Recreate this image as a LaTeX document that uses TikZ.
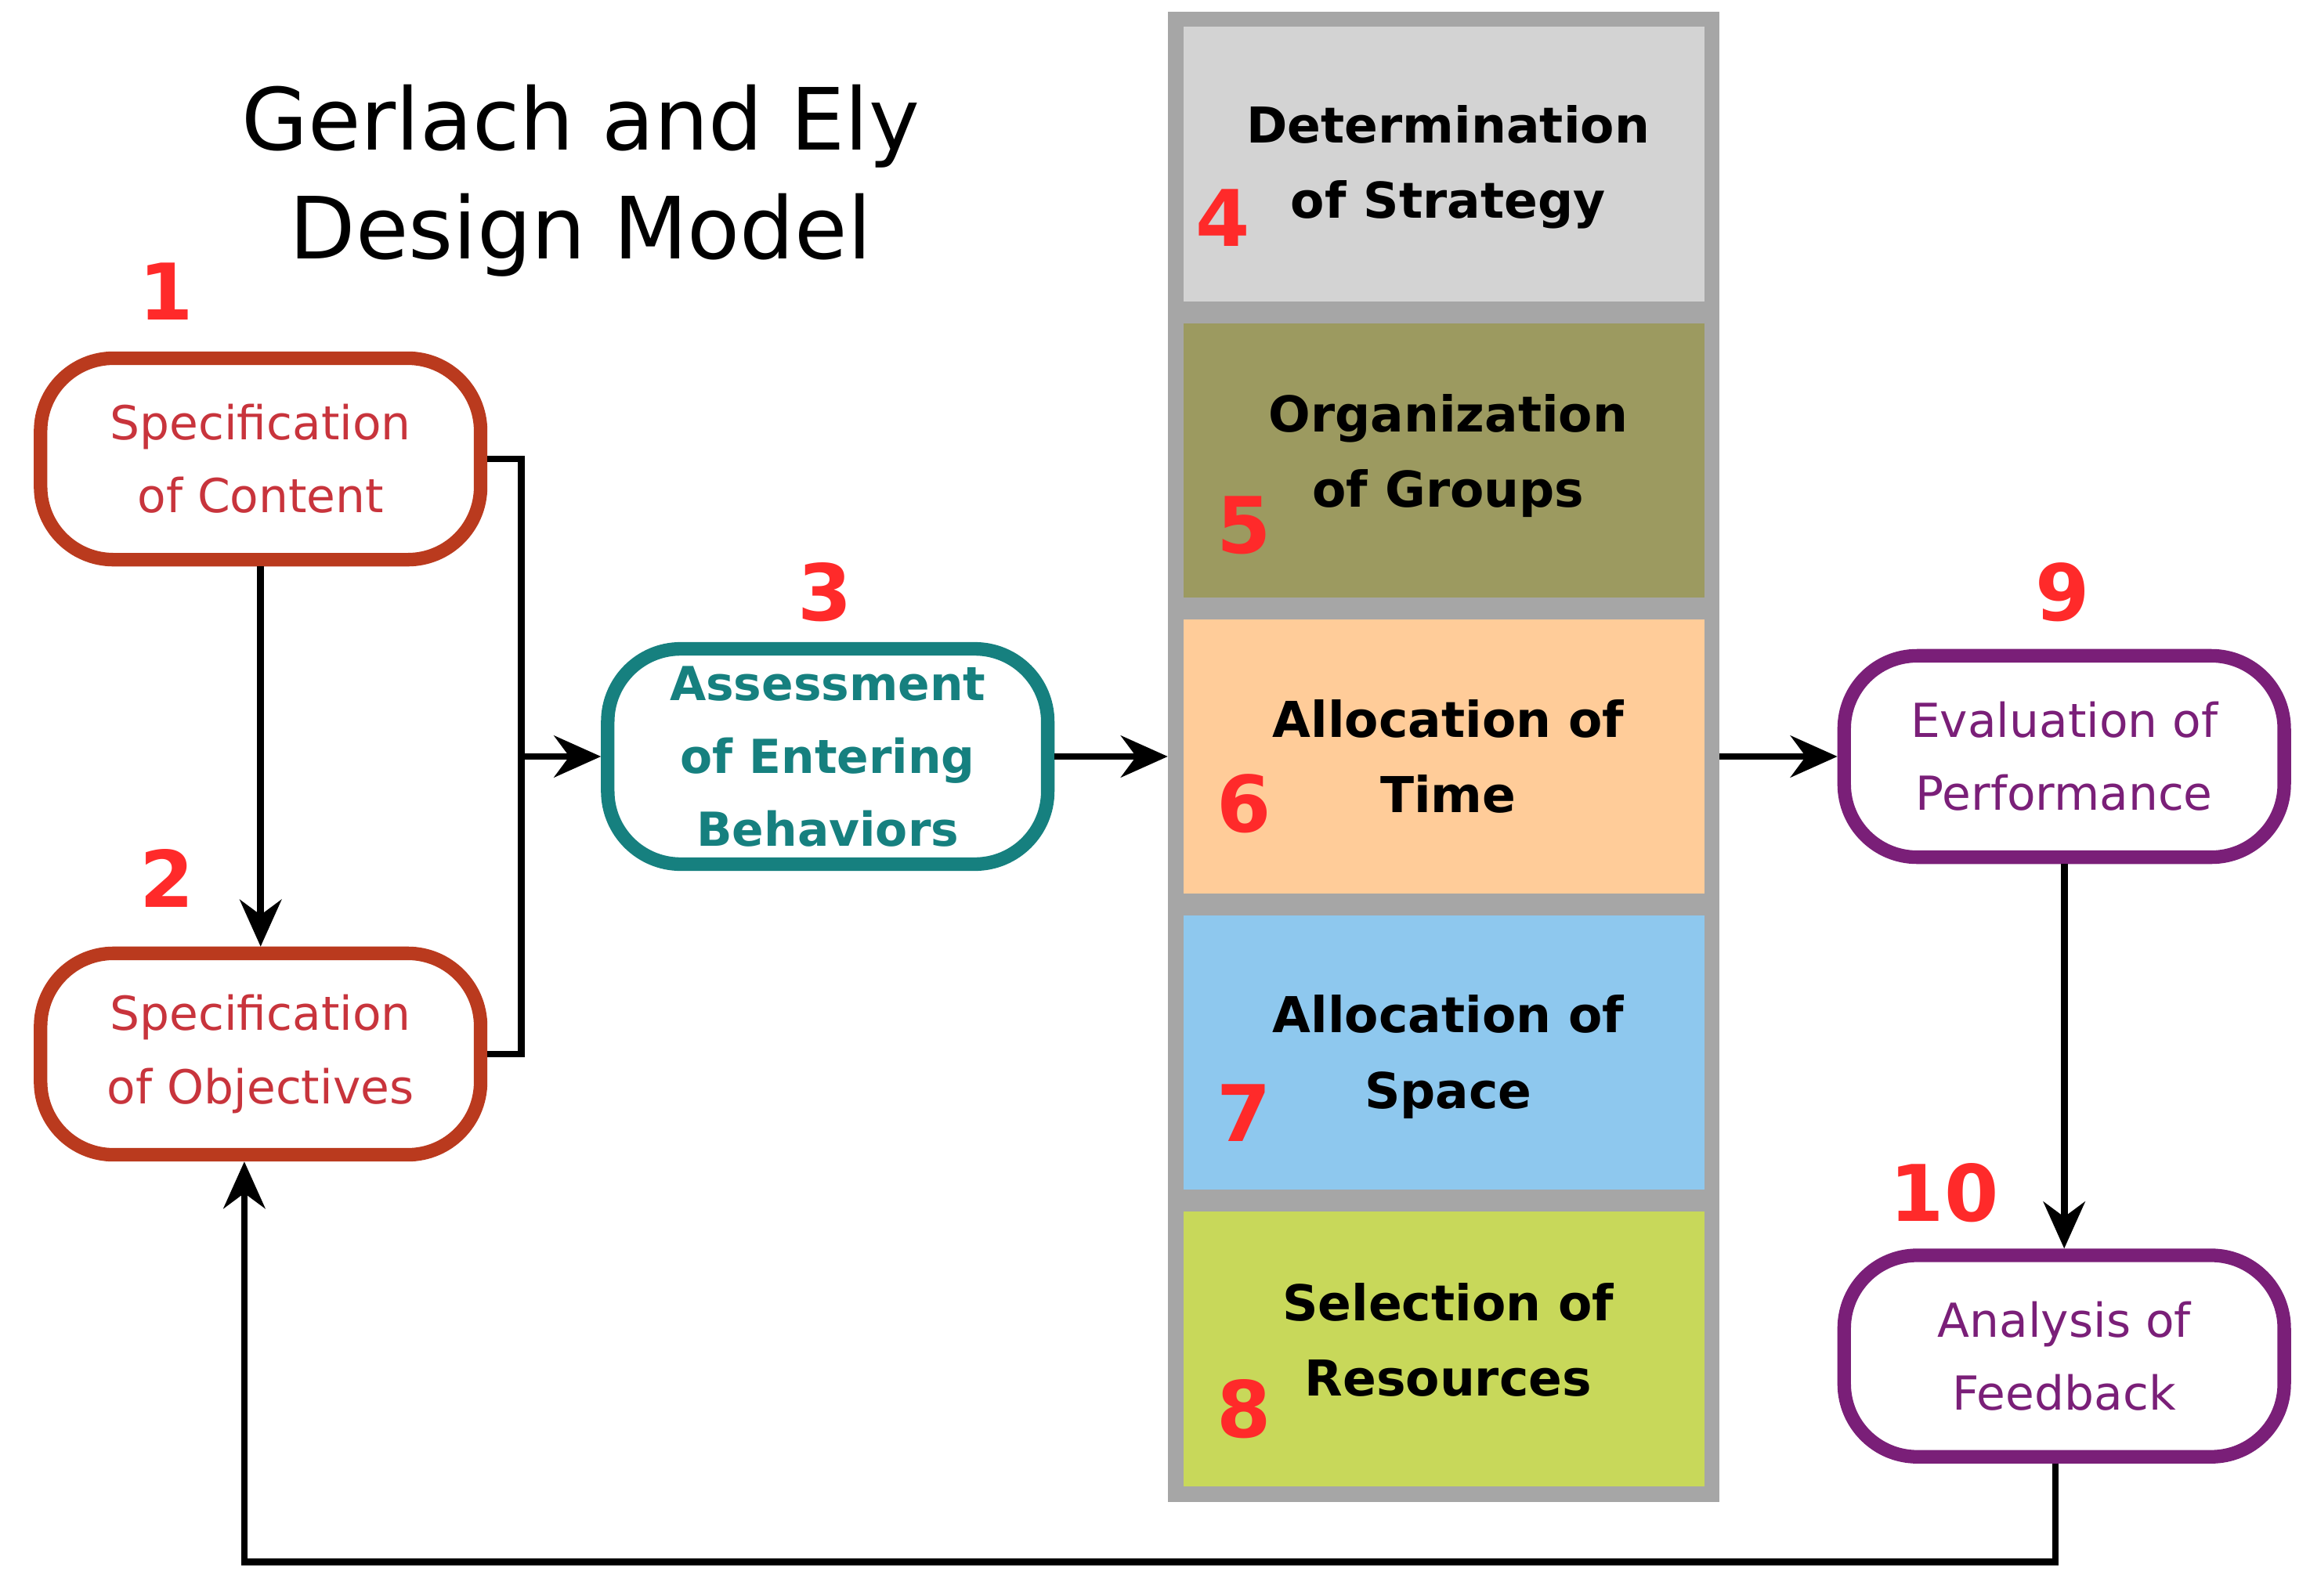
\documentclass[tikz,border=0pt]{standalone}
\usepackage{fontspec}
\setmainfont{DejaVu Sans}
\usetikzlibrary{arrows.meta}
\definecolor{cred}{HTML}{BA3A1E}
\definecolor{ctred}{HTML}{C8343C}
\definecolor{cteal}{HTML}{16807F}
\definecolor{cpur}{HTML}{7A1F78}
\definecolor{cnum}{HTML}{FF2A2A}
\definecolor{c4}{HTML}{D3D3D3}
\definecolor{c5}{HTML}{9C9A60}
\definecolor{c6}{HTML}{FFCC99}
\definecolor{c7}{HTML}{8EC8EE}
\definecolor{c8}{HTML}{C8D85A}
\begin{document}
\begin{tikzpicture}[x=0.01cm,y=-0.01cm,
 box/.style={draw=#1,line width=2.6pt,rounded corners=14pt,fill=white,minimum width=2.97cm,minimum height=1.36cm,align=center,font=\fontsize{9}{14}\selectfont},
 cell/.style={draw=gray!70,line width=3pt,fill=#1,minimum width=3.62cm,minimum height=1.96cm,inner sep=0pt},
 ctext/.style={font=\bfseries\fontsize{9.5}{14.5}\selectfont,align=center},
 num/.style={text=cnum,font=\bfseries\fontsize{15}{15}\selectfont},
 arr/.style={line width=1.3pt,-{Stealth[length=9pt,width=8pt]}},
 ln/.style={line width=1.3pt}]
\useasboundingbox (0,0) rectangle (1560,1078);
\node[align=center,font=\fontsize{16.5}{21}\selectfont] (title) at (392,122) {Gerlach and Ely\\Design Model};
\node[box=cred,text=ctred] (b1) at (176,310) {Specification\\of Content};
\node[box=cred,text=ctred] (b2) at (176,712) {Specification\\of Objectives};
\node[box=cteal,text=cteal] (b3) at (559,511) {\bfseries Assessment\\\bfseries of Entering\\\bfseries Behaviors};
\node[box=cpur,text=cpur] (b9) at (1394,511) {Evaluation of\\Performance};
\node[box=cpur,text=cpur] (b10) at (1394,916) {Analysis of\\Feedback};
\node[cell=c4] (c4) at (975,111) {};
\node[cell=c5] (c5) at (975,311) {};
\node[cell=c6] (c6) at (975,511) {};
\node[cell=c7] (c7) at (975,711) {};
\node[cell=c8] (c8) at (975,911) {};
\node[ctext] at (978,113) {Determination\\of Strategy};
\node[ctext] at (978,308) {Organization\\of Groups};
\node[ctext] at (978,511) {Allocation of\\Time};
\node[ctext] at (978,714) {Allocation of\\Space};
\node[ctext] at (978,905) {Selection of\\Resources};
\node[num] at (112,197) {1};
\node[num] at (113,593) {2};
\node[num] at (557,400) {3};
\node[num] at (826,147) {4};
\node[num] at (840,355) {5};
\node[num] at (840,543) {6};
\node[num] at (840,752) {7};
\node[num] at (840,952) {8};
\node[num] at (1393,400) {9};
\node[num] at (1313,806) {10};
\coordinate (j) at (352,511);
\draw[arr] (b1.south) -- (b2.north);
\draw[ln] (b1.east) -| (j);
\draw[ln] (b2.east) -| (j);
\draw[arr] (j) -- (b3.west);
\draw[arr] (b3.east) -- (c6.west);
\draw[arr] (c6.east) -- (b9.west);
\draw[arr] (b9.south) -- (b10.north);
\coordinate (f1) at (1388,1055);
\coordinate (f2) at (165,1055);
\draw[arr] (b10.south -| f1) -- (f1) -- (f2) -- (f2 |- b2.south);
\end{tikzpicture}
\end{document}
